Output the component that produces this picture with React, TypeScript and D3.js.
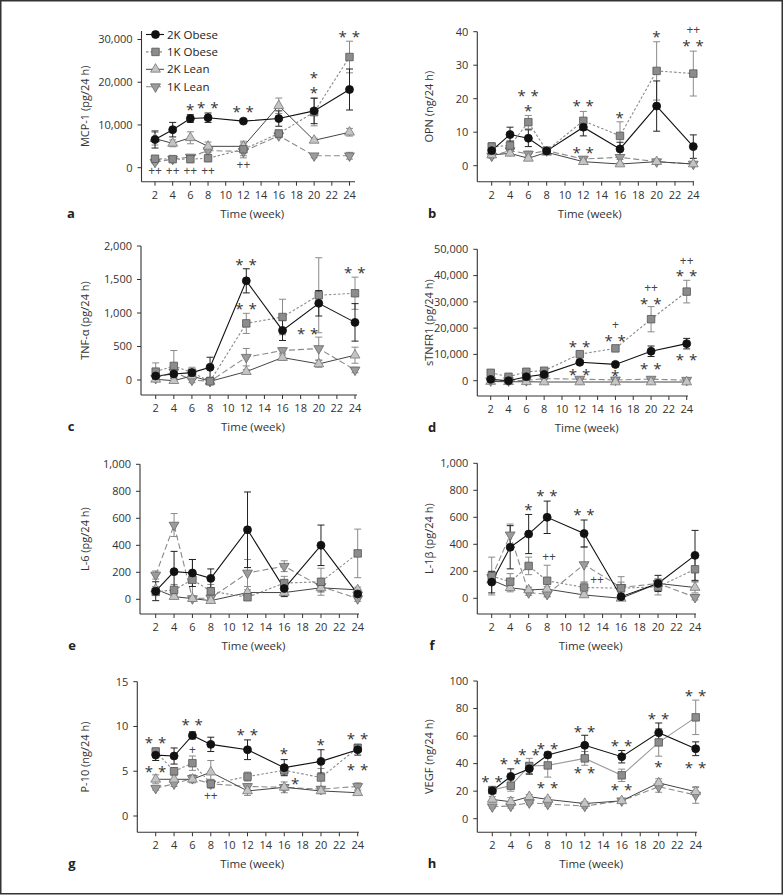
import React from 'react';
import * as d3 from 'd3';

const WEEKS = [2, 4, 6, 8, 12, 16, 20, 24];
const X_TICKS = [2, 4, 6, 8, 10, 12, 14, 16, 18, 20, 22, 24];
const SERIES_NAMES = ['2K Obese', '1K Obese', '2K Lean', '1K Lean'];

// Panel a: MCP-1
const A_O2 = [6600, 8900, 11500, 11700, 10900, 11500, 13300, 18300];
const A_O2_E = [2000, 1700, 900, 1100, 400, 1800, 3000, 4800];
const A_O1 = [2100, 2000, 2000, 2200, 4300, 8000, 13000, 25900];
const A_O1_E = [300, 300, 800, 400, 1500, 800, 3200, 3700];
const A_L2 = [6800, 5700, 7000, 5000, 5000, 14500, 6400, 8300];
const A_L2_E = [1500, 800, 1400, 1000, 1200, 1800, 500, 900];
const A_L1 = [1300, 2000, 2500, 4000, 3800, 7500, 2800, 2800];
const A_L1_E = [400, 300, 400, 500, 1500, 500, 500, 800];
const A_TICKS = [0, 10000, 20000, 30000];
const A_NOTES = [
  { w: 6, v: 14400, t: '*' }, { w: 8, v: 14900, t: '* *' }, { w: 12, v: 13900, t: '* *' },
  { w: 20, v: 21700, t: '*' }, { w: 20, v: 18200, t: '*' }, { w: 24, v: 31400, t: '* *' },
  { w: 2, v: -700, t: '++' }, { w: 4, v: -700, t: '++' }, { w: 6, v: -700, t: '++' },
  { w: 8, v: -700, t: '++' }, { w: 12, v: 600, t: '++' },
];

// Panel b: OPN
const B_O2 = [4.5, 9.3, 8.2, 4.4, 11.5, 5.0, 17.8, 5.7];
const B_O2_E = [1.5, 2.2, 2.5, 0.8, 2.6, 2.0, 7.5, 3.5];
const B_O1 = [5.7, 6.0, 13.0, 4.5, 13.4, 8.9, 28.3, 27.5];
const B_O1_E = [1.2, 1.5, 2.0, 0.6, 2.8, 4.2, 8.7, 6.7];
const B_L2 = [3.2, 3.7, 2.2, 4.0, 1.2, 0.5, 1.2, 0.5];
const B_L2_E = [0.6, 0.6, 0.6, 0.5, 0.4, 0.3, 0.5, 0.3];
const B_L1 = [2.9, 4.5, 3.5, 4.5, 2.0, 2.5, 1.2, 0.5];
const B_L1_E = [0.6, 1.0, 0.8, 0.5, 0.6, 0.6, 0.5, 0.3];
const B_TICKS = [0, 10, 20, 30, 40];
const B_NOTES = [
  { w: 6, v: 21.9, t: '* *' }, { w: 6, v: 17.4, t: '*' }, { w: 12, v: 18.8, t: '* *' },
  { w: 12, v: 4.9, t: '* *' }, { w: 16, v: 15.3, t: '*' }, { w: 20, v: 39.5, t: '*' },
  { w: 24, v: 40.5, t: '++' }, { w: 24, v: 36.7, t: '* *' },
];

// Panel c: TNF-α
const C_O2 = [60, 90, 110, 190, 1480, 740, 1145, 860];
const C_O2_E = [50, 60, 40, 150, 180, 150, 190, 280];
const C_O1 = [125, 210, 110, -20, 845, 940, 1265, 1295];
const C_O1_E = [130, 230, 80, 20, 150, 265, 560, 240];
const C_L2 = [10, -10, 60, -20, 125, 335, 240, 370];
const C_L2_E = [20, 30, 30, 20, 30, 40, 50, 120];
const C_L1 = [25, 120, 0, -20, 340, 440, 470, 150];
const C_L1_E = [30, 60, 40, 20, 130, 40, 170, 40];
const C_TICKS = [0, 500, 1000, 1500, 2000];
const C_NOTES = [
  { w: 12, v: 1766, t: '* *' }, { w: 12, v: 1105, t: '* *' },
  { w: 18.8, v: 746, t: '* *' }, { w: 24, v: 1642, t: '* *' },
];

// Panel d: sTNFR1
const D_O2 = [500, 0, 1500, 2400, 7000, 6200, 11200, 14100];
const D_O2_E = [300, 300, 400, 500, 600, 700, 2000, 2000];
const D_O1 = [3000, 1500, 3400, 3800, 10100, 12300, 23400, 33900];
const D_O1_E = [600, 400, 500, 500, 800, 900, 4800, 4300];
const D_L2 = [-300, -400, -400, -500, -500, -500, -500, -500];
const D_L2_E = [200, 200, 200, 200, 200, 200, 200, 200];
const D_L1 = [0, 0, 100, 800, 600, 300, 600, 200];
const D_L1_E = [200, 200, 200, 300, 300, 300, 300, 300];
const D_TICKS = [0, 10000, 20000, 30000, 40000, 50000];
const D_NOTES = [
  { w: 12, v: 14200, t: '* *' }, { w: 12, v: 3400, t: '* *' },
  { w: 16, v: 21200, t: '+' }, { w: 16, v: 16300, t: '* *' }, { w: 16, v: 3000, t: '*' },
  { w: 20, v: 35200, t: '++' }, { w: 20, v: 30700, t: '* *' }, { w: 20, v: 5700, t: '* *' },
  { w: 24, v: 45600, t: '++' }, { w: 24, v: 41100, t: '* *' }, { w: 24, v: 9100, t: '* *' },
];

// Panel e: L-6
const E_O2 = [60, 205, 195, 155, 515, 80, 400, 40];
const E_O2_E = [70, 150, 100, 70, 280, 60, 150, 30];
const E_O1 = [55, 70, 145, 60, 15, 120, 130, 340];
const E_O1_E = [20, 40, 150, 50, 20, 50, 100, 180];
const E_L2 = [75, 20, 5, -10, 50, 50, 85, 70];
const E_L2_E = [20, 15, 10, 10, 20, 20, 30, 20];
const E_L1 = [180, 550, 5, 10, 195, 245, 95, 5];
const E_L1_E = [30, 85, 20, 15, 100, 40, 40, 20];
const E_TICKS = [0, 200, 400, 600, 800, 1000];
const E_NOTES: { w: number; v: number; t: string }[] = [];

// Panel f: L-1β
const F_O2 = [120, 378, 476, 600, 480, 12, 110, 318];
const F_O2_E = [80, 160, 145, 120, 100, 10, 60, 185];
const F_O1 = [165, 123, 240, 130, 80, 75, 85, 215];
const F_O1_E = [140, 60, 65, 115, 40, 85, 60, 90];
const F_L2 = [135, 78, 62, 68, 25, 0, 110, 80];
const F_L2_E = [30, 30, 20, 20, 15, 10, 30, 40];
const F_L1 = [155, 470, 42, 30, 250, 80, 110, 8];
const F_L1_E = [40, 80, 20, 20, 130, 40, 30, 20];
const F_TICKS = [0, 200, 400, 600, 800, 1000];
const F_NOTES = [
  { w: 6, v: 679, t: '*' }, { w: 8, v: 783, t: '* *' }, { w: 12, v: 642, t: '* *' },
  { w: 8.2, v: 304, t: '++' }, { w: 13.4, v: 136, t: '++' },
];

// Panel g: P-10
const G_O2 = [6.8, 6.7, 9.0, 8.0, 7.4, 5.4, 6.1, 7.4];
const G_O2_E = [0.6, 0.9, 0.4, 0.8, 1.1, 0.9, 1.3, 0.6];
const G_O1 = [7.2, 5.0, 5.9, 3.6, 4.4, 5.1, 4.3, 7.6];
const G_O1_E = [0.4, 0.4, 0.8, 0.5, 0.5, 0.5, 1.0, 0.4];
const G_L2 = [4.1, 4.1, 4.1, 4.9, 2.8, 3.2, 2.8, 2.6];
const G_L2_E = [0.5, 0.4, 0.4, 1.3, 0.5, 0.6, 0.3, 0.2];
const G_L1 = [3.1, 3.6, 4.2, 3.6, 3.3, 3.2, 3.0, 3.3];
const G_L1_E = [0.2, 0.3, 0.4, 0.3, 0.3, 0.3, 0.3, 0.4];
const G_TICKS = [0, 5, 10, 15];
const G_NOTES = [
  { w: 2, v: 8.5, t: '* *' }, { w: 2, v: 5.3, t: '* *' }, { w: 6, v: 10.5, t: '* *' },
  { w: 6, v: 7.4, t: '+' }, { w: 8, v: 2.2, t: '++' }, { w: 12, v: 9.4, t: '* *' },
  { w: 16, v: 7.3, t: '*' }, { w: 17.2, v: 4.0, t: '*' }, { w: 20, v: 8.3, t: '*' },
  { w: 24, v: 9.0, t: '* *' }, { w: 24, v: 5.5, t: '* *' },
];

// Panel h: VEGF
const H_O2 = [20.3, 30.7, 36.3, 46.3, 53.3, 45.0, 62.5, 50.8];
const H_O2_E = [2, 5.5, 4, 2, 7.3, 4.5, 7, 5];
const H_O1 = [20.8, 24, 38.3, 38.7, 43.8, 31.5, 55.4, 73.6];
const H_O1_E = [2, 4, 5.5, 8.5, 5, 4.5, 10, 12.5];
const H_L2 = [14, 12.3, 16, 14, 11, 13, 26, 19.6];
const H_L2_E = [2, 3, 1.5, 1.5, 1.5, 1.5, 3, 3];
const H_L1 = [8.7, 9.2, 11.6, 10.6, 9.2, 13, 23.2, 17.2];
const H_L1_E = [1, 1.5, 1.5, 1.5, 1.5, 1, 4, 6];
const H_TICKS = [0, 20, 40, 60, 80, 100];
const H_NOTES = [
  { w: 2, v: 29.3, t: '* *' }, { w: 4, v: 42.1, t: '* *' }, { w: 6, v: 48.7, t: '* *' },
  { w: 8, v: 53.0, t: '* *' }, { w: 8, v: 24.9, t: '* *' }, { w: 12, v: 65.6, t: '* *' },
  { w: 12, v: 35.4, t: '* *' }, { w: 16, v: 55.2, t: '* *' }, { w: 16, v: 23.2, t: '* *' },
  { w: 20, v: 74.6, t: '* *' }, { w: 20, v: 40.2, t: '*' }, { w: 24, v: 91.8, t: '* *' },
  { w: 24, v: 39.7, t: '* *' },
];

const FONT = "'Open Sans', 'Noto Sans', sans-serif";

type Note = { w: number; v: number; t: string };
type Style = { stroke: string; dash?: string; width: number; marker: string; fill: string; mstroke: string; err: string };
const STYLES: Style[] = [
  { stroke: '#111', width: 1.1, marker: 'circle', fill: '#111', mstroke: '#111', err: '#222' },
  { stroke: '#8a8a8a', dash: '2.5,2', width: 1.1, marker: 'square', fill: '#8c8c8c', mstroke: '#555', err: '#8a8a8a' },
  { stroke: '#444', width: 1, marker: 'up', fill: '#c4c4c4', mstroke: '#777', err: '#8a8a8a' },
  { stroke: '#8a8a8a', dash: '6,3', width: 1.1, marker: 'down', fill: '#9c9c9c', mstroke: '#666', err: '#8a8a8a' },
];

function markerPath(kind: string) {
  if (kind === 'circle') return d3.symbol(d3.symbolCircle, 50)();
  if (kind === 'square') return d3.symbol(d3.symbolSquare, 56)();
  return d3.symbol(d3.symbolTriangle, 42)();
}

function Marker({ kind, x, y, st }: { kind: string; x: number; y: number; st: Style }) {
  const rot = kind === 'down' ? ' rotate(180)' : '';
  return (
    <path d={markerPath(kind) as string} transform={`translate(${x},${y})${rot}`}
      fill={st.fill} stroke={st.mstroke} strokeWidth={0.8} />
  );
}

type Cfg = {
  yAxisX: number; x2: number; x24: number; y0: number; yTop: number; yTopVal: number;
  xAxisY: number; axisTop: number; xEnd: number; letter: string; letterX: number; ylabX: number;
  ylabel: string; ticks: number[]; series: number[][]; errs: number[][];
  notes: Note[]; legend?: boolean; o1Solid?: boolean;
};

function groupNotes(notes: Note[], y: (v: number) => number) {
  const sorted = [...notes].sort((a, b) => a.w - b.w || b.v - a.v);
  const groups: Note[][] = [];
  sorted.forEach((n) => {
    const g = groups[groups.length - 1];
    if (g && g[0].w === n.w && Math.abs(y(g[g.length - 1].v) - y(n.v)) < 22) g.push(n);
    else groups.push([n]);
  });
  return groups;
}

function Panel({ c }: { c: Cfg }) {
  const x = d3.scaleLinear().domain([2, 24]).range([c.x2, c.x24]);
  const y = d3.scaleLinear().domain([0, c.yTopVal]).range([c.y0, c.yTop]);
  const fmt = d3.format(',');
  const order = [3, 2, 1, 0];
  const groups = groupNotes(c.notes, y);
  return (
    <g fontFamily={FONT}>
      <line x1={c.yAxisX} x2={c.yAxisX} y1={c.axisTop} y2={c.xAxisY} stroke="#333" strokeWidth={1.1} />
      <line x1={c.yAxisX} x2={c.xEnd} y1={c.xAxisY} y2={c.xAxisY} stroke="#333" strokeWidth={1.1} />
      {c.ticks.map((t) => (
        <g key={'yt' + t}>
          <line x1={c.yAxisX - 4} x2={c.yAxisX} y1={y(t)} y2={y(t)} stroke="#333" />
          <text x={c.yAxisX - 9} y={y(t)} dy="0.35em" textAnchor="end" fontSize={11} fill="#333">{fmt(t)}</text>
        </g>
      ))}
      {X_TICKS.map((t) => (
        <g key={'xt' + t}>
          <line x1={x(t)} x2={x(t)} y1={c.xAxisY} y2={c.xAxisY + 4} stroke="#333" />
          <text x={x(t)} y={c.xAxisY + 17} textAnchor="middle" fontSize={11} fill="#333">{t}</text>
        </g>
      ))}
      <text x={(c.yAxisX + c.xEnd) / 2 + 4} y={c.xAxisY + 36} textAnchor="middle" fontSize={11.5} fill="#333">Time (week)</text>
      <text x={c.letterX} y={c.xAxisY + 36} textAnchor="middle" fontSize={13} fontWeight="bold" fill="#222">{c.letter}</text>
      <text transform={`translate(${c.ylabX},${(c.axisTop + c.xAxisY) / 2}) rotate(-90)`} textAnchor="middle"
        dominantBaseline="central" fontSize={11} fill="#333">{c.ylabel}</text>
      {order.map((si) => {
        const st = STYLES[si];
        const line = d3.line<number>().x((_, i) => x(WEEKS[i])).y((v) => y(v));
        const solid = si === 1 && c.o1Solid;
        return (
          <path key={'l' + si} d={line(c.series[si]) as string} fill="none"
            stroke={solid ? '#999' : st.stroke} strokeWidth={st.width}
            strokeDasharray={solid ? undefined : st.dash} />
        );
      })}
      {order.map((si) => {
        const st = STYLES[si];
        return c.series[si].map((v, i) => {
          const e = c.errs[si][i];
          const cx = x(WEEKS[i]);
          const yt = y(v + e), yb = y(v - e);
          return (
            <g key={'e' + si + '-' + i} stroke={st.err} strokeWidth={1}>
              <line x1={cx} x2={cx} y1={yt} y2={yb} />
              <line x1={cx - 3.5} x2={cx + 3.5} y1={yt} y2={yt} />
              <line x1={cx - 3.5} x2={cx + 3.5} y1={yb} y2={yb} />
            </g>
          );
        });
      })}
      {order.map((si) => c.series[si].map((v, i) => (
        <Marker key={'m' + si + '-' + i} kind={STYLES[si].marker} x={x(WEEKS[i])} y={y(v)} st={STYLES[si]} />
      )))}
      {groups.map((g, gi) => (
        <text key={'n' + gi} textAnchor="middle" fill="#333">
          {g.map((n, i) => {
            const star = n.t.includes('*');
            return (
              <tspan key={i} x={x(n.w)} y={y(n.v) + (star ? 8.5 : 4)} fontSize={star ? 15 : 12}
                letterSpacing={star ? 0.5 : 0} fill={star ? '#333' : '#444'}>{n.t}</tspan>
            );
          })}
        </text>
      ))}
      {c.legend && SERIES_NAMES.map((name, si) => {
        const st = STYLES[si];
        const ly = 34.5 + si * 17.4;
        return (
          <g key={'lg' + si}>
            <line x1={146} x2={164} y1={ly} y2={ly} stroke={st.stroke} strokeWidth={st.width} strokeDasharray={st.dash} />
            <Marker kind={st.marker} x={155.5} y={ly} st={st} />
            <text x={167} y={ly} dy="0.35em" fontSize={11.5} fill="#222">{name}</text>
          </g>
        );
      })}
    </g>
  );
}

const PANELS: Cfg[] = [
  { yAxisX: 141.5, x2: 155, x24: 349.5, y0: 167.7, yTop: 39.5, yTopVal: 30000, xAxisY: 181.7, axisTop: 31, xEnd: 355,
    letter: 'a', letterX: 71, ylabX: 84, ylabel: 'MCP-1 (pg/24 h)', ticks: A_TICKS,
    series: [A_O2, A_O1, A_L2, A_L1], errs: [A_O2_E, A_O1_E, A_L2_E, A_L1_E], notes: A_NOTES, legend: true },
  { yAxisX: 477.3, x2: 491.7, x24: 693.3, y0: 165.7, yTop: 31.7, yTopVal: 40, xAxisY: 181.7, axisTop: 31.7, xEnd: 694,
    letter: 'b', letterX: 432, ylabX: 428, ylabel: 'OPN (ng/24 h)', ticks: B_TICKS,
    series: [B_O2, B_O1, B_L2, B_L1], errs: [B_O2_E, B_O1_E, B_L2_E, B_L1_E], notes: B_NOTES },
  { yAxisX: 141, x2: 155.7, x24: 355, y0: 380, yTop: 246, yTopVal: 2000, xAxisY: 395, axisTop: 246, xEnd: 357,
    letter: 'c', letterX: 71, ylabX: 84, ylabel: 'TNF-α (pg/24 h)', ticks: C_TICKS,
    series: [C_O2, C_O1, C_L2, C_L1], errs: [C_O2_E, C_O1_E, C_L2_E, C_L1_E], notes: C_NOTES },
  { yAxisX: 477.3, x2: 490.7, x24: 686.7, y0: 380.7, yTop: 249.3, yTopVal: 50000, xAxisY: 396, axisTop: 249.3, xEnd: 688,
    letter: 'd', letterX: 432, ylabX: 428, ylabel: 'sTNFR1 (pg/24 h)', ticks: D_TICKS,
    series: [D_O2, D_O1, D_L2, D_L1], errs: [D_O2_E, D_O1_E, D_L2_E, D_L1_E], notes: D_NOTES },
  { yAxisX: 140, x2: 155.7, x24: 357.7, y0: 599.3, yTop: 464.3, yTopVal: 1000, xAxisY: 614, axisTop: 464.3, xEnd: 359,
    letter: 'e', letterX: 72, ylabX: 84, ylabel: 'L-6 (pg/24 h)', ticks: E_TICKS,
    series: [E_O2, E_O1, E_L2, E_L1], errs: [E_O2_E, E_O1_E, E_L2_E, E_L1_E], notes: E_NOTES },
  { yAxisX: 477.3, x2: 491.7, x24: 695, y0: 598.3, yTop: 463.3, yTopVal: 1000, xAxisY: 614, axisTop: 463.3, xEnd: 696,
    letter: 'f', letterX: 432, ylabX: 428, ylabel: 'L-1β (pg/24 h)', ticks: F_TICKS,
    series: [F_O2, F_O1, F_L2, F_L1], errs: [F_O2_E, F_O1_E, F_L2_E, F_L1_E], notes: F_NOTES },
  { yAxisX: 137.3, x2: 155.7, x24: 357.7, y0: 816, yTop: 681.7, yTopVal: 15, xAxisY: 832.3, axisTop: 681.7, xEnd: 359,
    letter: 'g', letterX: 72, ylabX: 84, ylabel: 'P-10 (ng/24 h)', ticks: G_TICKS,
    series: [G_O2, G_O1, G_L2, G_L1], errs: [G_O2_E, G_O1_E, G_L2_E, G_L1_E], notes: G_NOTES },
  { yAxisX: 477.3, x2: 492.3, x24: 695.7, y0: 818.7, yTop: 681, yTopVal: 100, xAxisY: 832.3, axisTop: 681, xEnd: 697,
    letter: 'h', letterX: 432, ylabX: 428, ylabel: 'VEGF (ng/24 h)', ticks: H_TICKS,
    series: [H_O2, H_O1, H_L2, H_L1], errs: [H_O2_E, H_O1_E, H_L2_E, H_L1_E], notes: H_NOTES, o1Solid: true },
];

export default function App() {
  return (
    <svg width={783} height={896} style={{ position: 'absolute', left: 0, top: 0, background: '#fff' }}>
      <rect x={0} y={0} width={783} height={896} fill="#fff" />
      <rect x={0.75} y={0.75} width={781.5} height={893} fill="none" stroke="#333" strokeWidth={1.5} />
      {PANELS.map((c) => <Panel key={c.letter} c={c} />)}
    </svg>
  );
}
